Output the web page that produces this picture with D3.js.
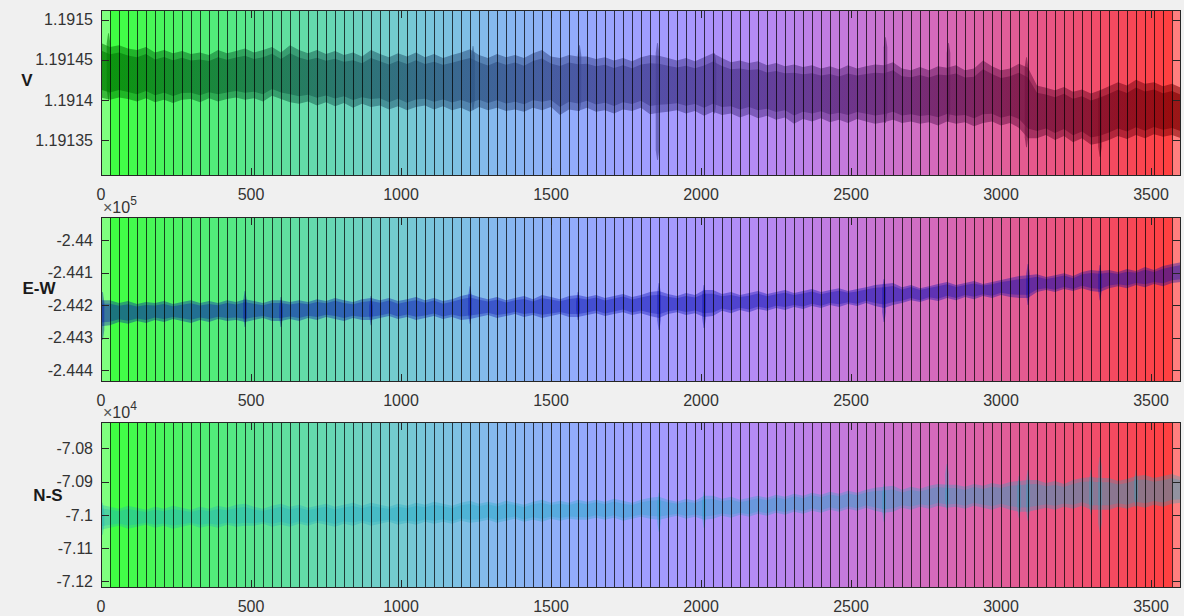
<!DOCTYPE html>
<html><head><meta charset="utf-8">
<script src="https://cdn.jsdelivr.net/npm/d3@7"></script>
<style>
body{margin:0;background:#f0f0f0;}
svg{display:block;font-family:"Liberation Sans",Arial,Helvetica,sans-serif;}
</style>
</head><body>
<svg id="chart" width="1184" height="616"></svg>
<script>
// ---------------- DATA ----------------
const timeRange = [0, 3600];
const segmentStep = 30;
const xTicks = [0, 500, 1000, 1500, 2000, 2500, 3000, 3500];

const vLimits = [1.191305, 1.191512];
const vTicks = [1.19135, 1.1914, 1.19145, 1.1915];
const ewLimits = [-244437, -243929];
const ewTicks = [-244400, -244300, -244200, -244100, -244000];
const nsLimits = [-71220, -70721];
const nsTicks = [-71200, -71100, -71000, -70900, -70800];

// envelope samples every 30 s (0..3600)
const vHigh = [
1.191471,1.191466,1.191468,1.191464,1.191462,1.191466,1.191459,1.191462,1.191458,1.191461,
1.191457,1.191459,1.191456,1.191462,1.191458,1.191461,1.191464,1.191459,1.191462,1.191466,
1.191459,1.191468,1.191462,1.191458,1.191462,1.191457,1.191461,1.191456,1.191459,1.191454,
1.191462,1.191457,1.191453,1.191458,1.191454,1.191459,1.191453,1.191457,1.191452,1.191456,
1.191459,1.191463,1.191456,1.191452,1.191457,1.191453,1.191456,1.191452,1.191458,1.191462,
1.191454,1.191452,1.191456,1.191454,1.191454,1.191451,1.191453,1.191449,1.191452,1.191448,
1.191453,1.191456,1.191455,1.191452,1.191449,1.191452,1.191448,1.191453,1.191458,1.191452,
1.191447,1.191449,1.191446,1.191448,1.191443,1.191446,1.191442,1.191444,1.191441,1.191443,
1.191439,1.191442,1.191438,1.191443,1.191439,1.191442,1.191444,1.191443,1.191447,1.191439,
1.191437,1.191441,1.191437,1.191442,1.191440,1.191443,1.191437,1.191439,1.191449,1.191442,
1.191437,1.191439,1.191445,1.191440,1.191418,1.191415,1.191412,1.191416,1.191410,1.191413,
1.191408,1.191412,1.191417,1.191422,1.191418,1.191425,1.191420,1.191422,1.191417,1.191420,
1.191415];
const vLow = [
1.191403,1.191400,1.191403,1.191401,1.191398,1.191402,1.191397,1.191400,1.191396,1.191400,
1.191401,1.191397,1.191402,1.191398,1.191401,1.191403,1.191400,1.191402,1.191398,1.191405,
1.191401,1.191397,1.191395,1.191398,1.191393,1.191397,1.191392,1.191396,1.191390,1.191395,
1.191391,1.191393,1.191388,1.191392,1.191387,1.191391,1.191393,1.191388,1.191392,1.191387,
1.191390,1.191385,1.191391,1.191387,1.191390,1.191386,1.191388,1.191385,1.191390,1.191387,
1.191391,1.191381,1.191388,1.191386,1.191390,1.191385,1.191387,1.191383,1.191388,1.191386,
1.191390,1.191382,1.191384,1.191385,1.191387,1.191383,1.191386,1.191380,1.191385,1.191381,
1.191383,1.191378,1.191382,1.191377,1.191380,1.191375,1.191378,1.191370,1.191376,1.191373,
1.191377,1.191372,1.191375,1.191371,1.191376,1.191373,1.191370,1.191372,1.191375,1.191371,
1.191373,1.191370,1.191372,1.191368,1.191373,1.191370,1.191372,1.191367,1.191371,1.191373,
1.191368,1.191371,1.191365,1.191352,1.191352,1.191356,1.191350,1.191355,1.191347,1.191352,
1.191344,1.191346,1.191350,1.191355,1.191351,1.191356,1.191352,1.191357,1.191354,1.191356,
1.191352];
const vSpikeTimes = [25, 1240, 1595, 1855, 2045, 2615, 2825, 3085, 3330];
const vSpikeHigh = [1.191483, 1.191467, 1.191468, 1.191471, 1.191458, 1.191478, 1.191471, 1.191453, 1.191412];
const vSpikeLow  = [1.191400, 1.191387, 1.191386, 1.191325, 1.191383, 1.191371, 1.191373, 1.191341, 1.191329];

const ewHigh = [
-244185,-244185,-244194,-244188,-244197,-244191,-244194,-244188,-244197,-244191,
-244185,-244194,-244188,-244194,-244185,-244191,-244182,-244188,-244194,-244185,
-244185,-244191,-244185,-244191,-244182,-244188,-244178,-244185,-244191,-244182,
-244178,-244185,-244178,-244188,-244182,-244175,-244185,-244178,-244188,-244182,
-244172,-244166,-244175,-244182,-244175,-244185,-244178,-244172,-244182,-244169,
-244175,-244182,-244172,-244169,-244175,-244169,-244178,-244172,-244166,-244175,
-244169,-244160,-244157,-244166,-244172,-244163,-244169,-244154,-244154,-244166,
-244160,-244169,-244163,-244157,-244166,-244160,-244154,-244163,-244157,-244151,
-244160,-244154,-244148,-244157,-244151,-244145,-244138,-244135,-244132,-244145,
-244138,-244148,-244142,-244135,-244129,-244138,-244132,-244126,-244135,-244129,
-244123,-244117,-244111,-244108,-244105,-244114,-244108,-244102,-244111,-244098,
-244092,-244095,-244092,-244098,-244089,-244095,-244083,-244092,-244080,-244074,
-244068];
const ewLow = [
-244265,-244262,-244252,-244258,-244249,-244255,-244246,-244252,-244243,-244249,
-244255,-244246,-244252,-244243,-244249,-244246,-244252,-244246,-244240,-244249,
-244249,-244243,-244249,-244240,-244246,-244237,-244243,-244249,-244240,-244246,
-244246,-244240,-244234,-244243,-244237,-244246,-244240,-244234,-244243,-244237,
-244246,-244243,-244237,-244231,-244240,-244234,-244228,-244237,-244231,-244240,
-244234,-244228,-244237,-244237,-244231,-244225,-244234,-244228,-244222,-244231,
-244225,-244234,-244240,-244228,-244222,-244231,-244225,-244237,-244234,-244218,
-244225,-244215,-244222,-244212,-244218,-244209,-244215,-244206,-244212,-244203,
-244209,-244200,-244206,-244197,-244203,-244194,-244203,-244209,-244200,-244194,
-244185,-244191,-244182,-244188,-244178,-244185,-244175,-244182,-244172,-244178,
-244169,-244175,-244178,-244178,-244160,-244154,-244160,-244151,-244157,-244148,
-244157,-244160,-244148,-244142,-244148,-244138,-244145,-244135,-244142,-244132,
-244129];
const ewSpikeTimes = [5, 480, 600, 900, 1230, 1590, 1860, 2010, 2610, 3090, 3330];
const ewSpikeHigh = [-244160, -244157, -244175, -244172, -244142, -244160, -244132, -244138, -244120, -244074, -244077];
const ewSpikeLow  = [-244308, -244268, -244268, -244262, -244258, -244246, -244277, -244271, -244252, -244200, -244185];

const nsHigh = [
-70970,-70976,-70982,-70973,-70979,-70985,-70976,-70982,-70973,-70979,
-70985,-70976,-70982,-70973,-70979,-70970,-70967,-70976,-70982,-70973,
-70967,-70976,-70970,-70979,-70973,-70967,-70976,-70970,-70964,-70973,
-70964,-70970,-70976,-70967,-70973,-70964,-70970,-70961,-70967,-70973,
-70964,-70958,-70967,-70961,-70967,-70958,-70964,-70970,-70961,-70955,
-70964,-70958,-70964,-70955,-70961,-70955,-70961,-70952,-70958,-70964,
-70955,-70949,-70946,-70955,-70961,-70952,-70958,-70943,-70943,-70952,
-70946,-70955,-70949,-70943,-70949,-70940,-70946,-70937,-70943,-70934,
-70940,-70931,-70937,-70928,-70934,-70925,-70919,-70916,-70913,-70925,
-70916,-70922,-70913,-70907,-70910,-70910,-70916,-70907,-70913,-70904,
-70910,-70901,-70898,-70895,-70895,-70904,-70898,-70907,-70895,-70889,
-70886,-70889,-70889,-70898,-70892,-70883,-70880,-70889,-70883,-70877,
-70886];
const nsLow = [
-71045,-71039,-71033,-71042,-71036,-71030,-71039,-71033,-71042,-71036,
-71030,-71039,-71033,-71039,-71030,-71036,-71033,-71033,-71027,-71036,
-71030,-71036,-71027,-71033,-71024,-71030,-71036,-71027,-71033,-71024,
-71033,-71027,-71021,-71030,-71024,-71030,-71021,-71027,-71021,-71027,
-71018,-71024,-71021,-71015,-71024,-71018,-71012,-71021,-71015,-71021,
-71012,-71018,-71012,-71015,-71015,-71009,-71015,-71009,-71018,-71012,
-71006,-71012,-71015,-71009,-71003,-71012,-71006,-71015,-71012,-71003,
-71009,-71000,-71006,-70997,-71003,-70994,-71000,-70991,-70997,-70988,
-70994,-70985,-70991,-70982,-70988,-70979,-70988,-70994,-70991,-70979,
-70985,-70976,-70982,-70973,-70979,-70976,-70982,-70973,-70979,-70985,
-70976,-70985,-70991,-70991,-70985,-70979,-70985,-70976,-70982,-70973,
-70985,-70985,-70985,-70976,-70982,-70973,-70979,-70970,-70976,-70967,
-70964];
const nsSpikeTimes = [5, 1860, 2010, 2610, 2820, 3060, 3090, 3300, 3330, 3450];
const nsSpikeHigh = [-70964, -70934, -70931, -70907, -70847, -70883, -70865, -70865, -70826, -70865];
const nsSpikeLow  = [-71060, -71051, -71039, -71021, -70985, -71009, -71018, -71000, -71054, -70979];

// ---------------- DRAWING ----------------
const svg = d3.select("#chart");
const W = 1184, H = 616;
svg.append("rect").attr("width", W).attr("height", H).attr("fill", "#f0f0f0");
const defs = svg.append("defs");

const x = d3.scaleLinear().domain(timeRange).range([101, 1181]);
const sampleTimes = d3.range(timeRange[0], timeRange[1] + 1, segmentStep);
const patchStarts = d3.range(timeRange[0], timeRange[1] - 2 * segmentStep + 1, segmentStep);
const bandEdges = d3.range(timeRange[0] + segmentStep, timeRange[1], segmentStep);

function bandRGB(t) {
  return d3.rgb(255 * t, 255 * (1 - t), 255 * Math.sin(Math.PI * t));
}
function bandColor(t) { return bandRGB(t).toString(); }

// gradient for the V trace: darkened colour map
const vGrad = defs.append("linearGradient").attr("id", "vgrad")
  .attr("gradientUnits", "userSpaceOnUse")
  .attr("x1", x(timeRange[0])).attr("x2", x(timeRange[1])).attr("y1", 0).attr("y2", 0);
d3.range(0, 1.0001, 0.05).forEach(t => {
  const c = bandRGB(t);
  vGrad.append("stop").attr("offset", t)
    .attr("stop-color", d3.rgb(c.r * 0.52, c.g * 0.5, c.b * 0.58).toString());
});

const panels = [
  { name: "V", top: 10, bottom: 176, lim: vLimits, ticks: vTicks, fmt: d => String(+d.toFixed(5)),
    hi: vHigh, lo: vLow, st: vSpikeTimes, sh: vSpikeHigh, sl: vSpikeLow,
    color: "url(#vgrad)", fo: 0.55, co: 0.62, exp: null, lab: [27, 80] },
  { name: "E-W", top: 217, bottom: 382, lim: ewLimits, ticks: ewTicks, fmt: d => String(+(d / 1e5).toFixed(3)),
    hi: ewHigh, lo: ewLow, st: ewSpikeTimes, sh: ewSpikeHigh, sl: ewSpikeLow,
    color: "#0008b0", fo: 0.36, co: 0.3, exp: "5", lab: [39, 288] },
  { name: "N-S", top: 422, bottom: 588, lim: nsLimits, ticks: nsTicks, fmt: d => String(+(d / 1e4).toFixed(2)),
    hi: nsHigh, lo: nsLow, st: nsSpikeTimes, sh: nsSpikeHigh, sl: nsSpikeLow,
    color: "#1aa8c4", fo: 0.3, co: 0.26, exp: "4", lab: [48, 495] }
];

const axisColor = "#262626";
const textColor = "#333333";

panels.forEach((p, pi) => {
  const y = d3.scaleLinear().domain(p.lim).range([p.bottom, p.top]);
  const g = svg.append("g");
  const clipId = "clip" + pi;
  defs.append("clipPath").attr("id", clipId).append("rect")
    .attr("x", x.range()[0]).attr("y", p.top)
    .attr("width", x.range()[1] - x.range()[0]).attr("height", p.bottom - p.top);

  const plot = g.append("g").attr("clip-path", `url(#${clipId})`);
  plot.append("rect").attr("x", x.range()[0]).attr("y", p.top)
    .attr("width", x.range()[1] - x.range()[0]).attr("height", p.bottom - p.top)
    .attr("fill", "#ffffff");

  // overlapping translucent patches
  const nP = patchStarts.length;
  plot.selectAll("rect.patch").data(patchStarts).join("rect")
    .attr("class", "patch")
    .attr("x", d => x(d))
    .attr("y", p.top)
    .attr("width", d => x(d + 2 * segmentStep) - x(d))
    .attr("height", p.bottom - p.top)
    .attr("fill", (d, i) => bandColor(i / (nP - 1)))
    .attr("fill-opacity", 0.5);

  // signal envelope
  const pts = sampleTimes.map((t, i) => ({ t, hi: p.hi[i], lo: p.lo[i] }));
  const outer = d3.area().x(d => x(d.t)).y0(d => y(d.lo)).y1(d => y(d.hi));
  plot.append("path").datum(pts).attr("d", outer)
    .attr("fill", p.color).attr("fill-opacity", p.fo);
  const inner = d3.area().x(d => x(d.t))
    .y0(d => y(d.lo + (d.hi - d.lo) * 0.14))
    .y1(d => y(d.hi - (d.hi - d.lo) * 0.14));
  plot.append("path").datum(pts).attr("d", inner)
    .attr("fill", p.color).attr("fill-opacity", p.co);

  // spikes
  const spikes = p.st.map((t, i) => ({ t, hi: p.sh[i], lo: p.sl[i] }));
  plot.selectAll("path.spike").data(spikes).join("path")
    .attr("class", "spike")
    .attr("d", d => {
      const xc = x(d.t);
      return `M${xc - 1.8},${y(d.lo) - 10}L${xc - 0.4},${y(d.lo)}L${xc + 0.4},${y(d.lo)}L${xc + 1.8},${y(d.lo) - 10}` +
             `L${xc + 1.8},${y(d.hi) + 10}L${xc + 0.4},${y(d.hi)}L${xc - 0.4},${y(d.hi)}L${xc - 1.8},${y(d.hi) + 10}Z`;
    })
    .attr("fill", p.color).attr("fill-opacity", p.fo + 0.04);

  // patch edge lines
  plot.selectAll("line.edge").data(bandEdges).join("line")
    .attr("class", "edge")
    .attr("x1", d => Math.round(x(d)) + 0.5).attr("x2", d => Math.round(x(d)) + 0.5)
    .attr("y1", p.top).attr("y2", p.bottom)
    .attr("stroke", "#000").attr("stroke-opacity", 0.72).attr("stroke-width", 1);

  // box
  g.append("rect").attr("x", x.range()[0] + 0.5).attr("y", p.top + 0.5)
    .attr("width", x.range()[1] - x.range()[0] - 1).attr("height", p.bottom - p.top - 1)
    .attr("fill", "none").attr("stroke", axisColor).attr("stroke-width", 1);

  // y ticks (inside, both sides)
  const tl = 8;
  p.ticks.forEach(t => {
    const yy = Math.round(y(t)) + 0.5;
    g.append("line").attr("x1", x.range()[0]).attr("x2", x.range()[0] + tl)
      .attr("y1", yy).attr("y2", yy).attr("stroke", axisColor);
    g.append("line").attr("x1", x.range()[1] - tl).attr("x2", x.range()[1])
      .attr("y1", yy).attr("y2", yy).attr("stroke", axisColor);
  });
  g.selectAll("text.ytick").data(p.ticks).join("text")
    .attr("class", "ytick")
    .attr("x", 93).attr("y", d => y(d))
    .attr("dy", "0.36em")
    .attr("text-anchor", "end")
    .attr("font-size", 16).attr("fill", textColor)
    .text(p.fmt);

  // x ticks
  xTicks.forEach(t => {
    const xx = Math.round(x(t)) + 0.5;
    g.append("line").attr("x1", xx).attr("x2", xx)
      .attr("y1", p.bottom - tl).attr("y2", p.bottom).attr("stroke", axisColor);
    g.append("line").attr("x1", xx).attr("x2", xx)
      .attr("y1", p.top).attr("y2", p.top + tl).attr("stroke", axisColor);
  });
  g.selectAll("text.xtick").data(xTicks).join("text")
    .attr("class", "xtick")
    .attr("x", d => x(d)).attr("y", p.bottom + 23.5)
    .attr("text-anchor", "middle")
    .attr("font-size", 16).attr("fill", textColor)
    .text(d => String(d));

  // exponent label
  if (p.exp) {
    const t = g.append("text").attr("x", 103).attr("y", p.top - 4)
      .attr("font-size", 16).attr("fill", textColor);
    t.append("tspan").attr("fill", "#555").text("\u00d7");
    t.append("tspan").text("10");
    t.append("tspan").attr("font-size", 12).attr("dy", -8).text(p.exp);
  }

  // axis name
  g.append("text").attr("x", p.lab[0]).attr("y", p.lab[1])
    .attr("dy", "0.36em").attr("text-anchor", "middle")
    .attr("font-size", 17).attr("font-weight", "bold").attr("fill", "#1a1a1a")
    .text(p.name);
});
</script>
</body></html>
